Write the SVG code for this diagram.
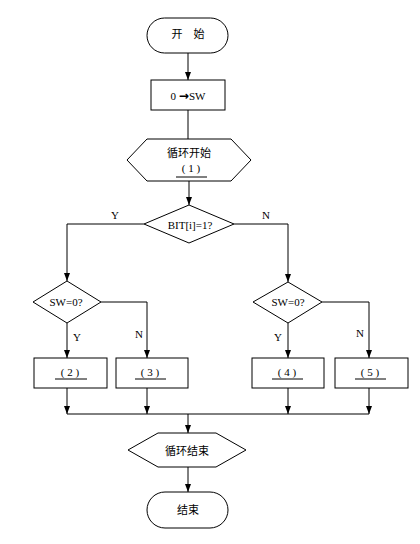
<svg xmlns="http://www.w3.org/2000/svg" width="420" height="544" viewBox="0 0 420 544">
<defs>
<style>
.s{fill:#fff;stroke:#000;stroke-width:1}
.c{fill:none;stroke:#000;stroke-width:1}
.u{stroke:#000;stroke-width:1}
text{font-family:"Liberation Serif","Noto Sans CJK SC",serif;font-size:11px;fill:#000;text-anchor:middle;dominant-baseline:central}
.ar{font-family:"DejaVu Sans",sans-serif;font-size:12px;font-weight:bold}
</style>
<marker id="a" markerUnits="userSpaceOnUse" markerWidth="8" markerHeight="6" refX="8" refY="3" orient="auto">
<path d="M0,0 L8,3 L0,6 z" fill="#000"/>
</marker>
</defs>
<rect width="420" height="544" fill="#fff"/>
<g id="connectors">
<path class="c" d="M188,53 V80" marker-end="url(#a)"/>
<path class="c" d="M188,110 V139"/>
<path class="c" d="M189,181 V205" marker-end="url(#a)"/>
<path class="c" d="M144,224 H67 V281" marker-end="url(#a)"/>
<path class="c" d="M234,224 H288 V282" marker-end="url(#a)"/>
<path class="c" d="M67,323 V358" marker-end="url(#a)"/>
<path class="c" d="M101,302 H147 V358" marker-end="url(#a)"/>
<path class="c" d="M288,323 V358" marker-end="url(#a)"/>
<path class="c" d="M322,302 H369 V358" marker-end="url(#a)"/>
<path class="c" d="M67,388 V414" marker-end="url(#a)"/>
<path class="c" d="M147,388 V414" marker-end="url(#a)"/>
<path class="c" d="M288,388 V414" marker-end="url(#a)"/>
<path class="c" d="M369,388 V414" marker-end="url(#a)"/>
<path class="c" d="M67,414 H369"/>
<path class="c" d="M188,414 V433" marker-end="url(#a)"/>
<path class="c" d="M188,467 V492" marker-end="url(#a)"/>
<text x="115" y="215">Y</text>
<text x="266" y="215">N</text>
<text x="77" y="337">Y</text>
<text x="139" y="334">N</text>
<text x="278" y="337">Y</text>
<text x="360" y="333">N</text>
</g>
<g id="start">
<rect class="s" x="147" y="18" width="81" height="35" rx="17.5"/>
<text x="188" y="34">开　始</text>
</g>
<g id="init">
<rect class="s" x="151" y="80" width="74" height="30"/>
<text x="188" y="96">0 <tspan class="ar">→</tspan>SW</text>
</g>
<g id="loopStart">
<polygon class="s" points="127,160 147,139 231,139 251,160 231,181 147,181"/>
<text x="189" y="153">循环开始</text>
<text x="191" y="168">( 1 )</text>
<line class="u" x1="176" y1="177" x2="207" y2="177"/>
</g>
<g id="bitTest">
<polygon class="s" points="189,205 234,224 189,243 144,224"/>
<text x="190" y="225">BIT[i]=1?</text>
</g>
<g id="swLeft">
<polygon class="s" points="67,281 101,302 67,323 33,302"/>
<text x="66" y="302">SW=0?</text>
</g>
<g id="swRight">
<polygon class="s" points="288,282 322,302 288,323 253,302"/>
<text x="288" y="302">SW=0?</text>
</g>
<g id="box2">
<rect class="s" x="34" y="358" width="73" height="30"/>
<text x="70" y="372">( 2 )</text>
<line class="u" x1="55" y1="379" x2="87" y2="379"/>
</g>
<g id="box3">
<rect class="s" x="116" y="358" width="72" height="30"/>
<text x="150" y="372">( 3 )</text>
<line class="u" x1="135" y1="379" x2="166" y2="379"/>
</g>
<g id="box4">
<rect class="s" x="252" y="358" width="72" height="30"/>
<text x="287" y="372">( 4 )</text>
<line class="u" x1="272" y1="379" x2="303" y2="379"/>
</g>
<g id="box5">
<rect class="s" x="335" y="358" width="73" height="30"/>
<text x="370" y="372">( 5 )</text>
<line class="u" x1="355" y1="379" x2="386" y2="379"/>
</g>
<g id="loopEnd">
<polygon class="s" points="128,450 158,433 216,433 246,450 216,467 158,467"/>
<text x="187" y="451">循环结束</text>
</g>
<g id="end">
<rect class="s" x="147" y="492" width="81" height="36" rx="18"/>
<text x="188" y="510">结束</text>
</g>
</svg>
